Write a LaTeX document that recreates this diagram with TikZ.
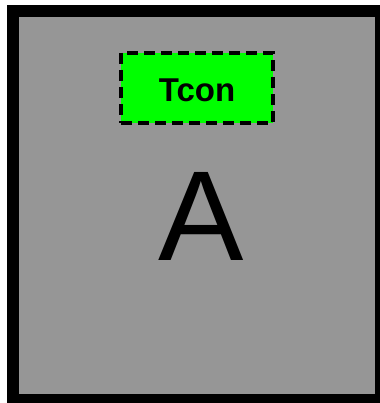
\documentclass[tikz,border=0pt]{standalone}
\usepackage{tikz}
\usetikzlibrary{positioning}
\usepackage{xcolor}
\usepackage{fontspec}
\setmainfont{Liberation Sans}
\definecolor{BlockGray}{HTML}{969696}
\definecolor{TconGreen}{HTML}{00FF00}

\begin{document}
\begin{tikzpicture}[x=1pt, y=-1pt]
                \useasboundingbox (0,0) rectangle (379,403);
                % Outer block
                \draw[fill=BlockGray, draw=black, line width=12pt] (13,11) rectangle (381,400);
                
                % Tcon box (dashed)
                \node[draw=black, fill=TconGreen, line width=4pt, dash pattern=on 11pt off 6pt,
                      minimum width=152pt, minimum height=70pt, inner sep=0pt,
                      text height=28pt, text depth=0pt,
                      font=\fontsize{33}{36}\selectfont\bfseries] (tcon) at (197,88) {Tcon};
                
                % Label
                \node[font=\fontsize{128}{130}\selectfont, anchor=base] (label) at (201,260) {A};
            \end{tikzpicture}
\end{document}
